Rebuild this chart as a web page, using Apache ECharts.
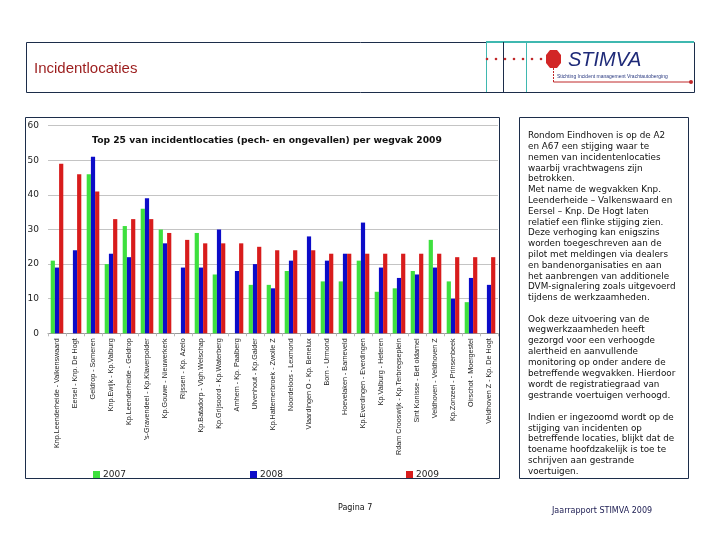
<!DOCTYPE html>
<html>
<head>
<meta charset="utf-8">
<script src="https://cdn.jsdelivr.net/npm/echarts@6/dist/echarts.min.js"></script>
<style>
html,body{margin:0;padding:0;background:#fff;}
#c{width:720px;height:540px;}
</style>
</head>
<body>
<div id="c"></div>
<script>
// ---- data ----
const categories = [
  "Knp.Leenderheide - Valkenswaard",
  "Eersel - Knp. De Hogt",
  "Geldrop - Someren",
  "Knp.Ewijk - Kp.Valburg",
  "Kp.Leenderheide - Geldrop",
  "'s-Gravendeel - Kp.Klaverpolder",
  "Kp.Gouwe - Nieuwerkerk",
  "Rijssen - Kp. Azelo",
  "Kp.Batadorp - Vlgh.Welschap",
  "Kp.Grijsoord - Kp.Waterberg",
  "Arnhem - Kp. Paalberg",
  "Ulvenhout - Kp.Galder",
  "Kp.Hattemerbroek - Zwolle Z",
  "Noordeloos - Lexmond",
  "Vlaardingen O - Kp. Benelux",
  "Born - Urmond",
  "Hoevelaken - Barneveld",
  "Kp.Everdingen - Everdingen",
  "Kp.Valburg - Heteren",
  "Rdam Crooswijk - Kp.Terbregseplein",
  "Sint Konisse - Bet oldamel",
  "Veldhoven - Veldhoven Z",
  "Kp.Zonzeel - Prinsenbeek",
  "Oirschot - Moergestel",
  "Veldhoven Z - Kp. De Hogt"
];
const seriesNames = ["2007", "2008", "2009"];
const values2007 = [21, 0, 46, 20, 31, 36, 30, 0, 29, 17, 0, 14, 14, 18, 0, 15, 15, 21, 12, 13, 18, 27, 15, 9, 0];
const values2008 = [19, 24, 51, 23, 22, 39, 26, 19, 19, 30, 18, 20, 13, 21, 28, 21, 23, 32, 19, 16, 17, 19, 10, 16, 14];
const values2009 = [49, 46, 41, 33, 33, 33, 29, 27, 26, 26, 26, 25, 24, 24, 24, 23, 23, 23, 23, 23, 23, 23, 22, 22, 22];
const yTicks = { min: 0, max: 60, interval: 10 };

const pageTitle = "Incidentlocaties";
const chartTitle = "Top 25 van incidentlocaties (pech- en ongevallen) per wegvak 2009";
const logoText = "STIMVA";
const logoSub = "Stichting Incident management Vrachtautoberging";
const footerLeft = "Pagina 7";
const footerRight = "Jaarrapport STIMVA 2009";
const para1 = [
  "Rondom Eindhoven is op de A2",
  "en A67 een stijging waar te",
  "nemen van incidentenlocaties",
  "waarbij vrachtwagens zijn",
  "betrokken.",
  "Met name de wegvakken Knp.",
  "Leenderheide \u2013 Valkenswaard en",
  "Eersel \u2013 Knp. De Hogt laten",
  "relatief een flinke stijging zien.",
  "Deze verhoging kan enigszins",
  "worden toegeschreven aan de",
  "pilot met meldingen via dealers",
  "en bandenorganisaties en aan",
  "het aanbrengen van additionele",
  "DVM-signalering zoals uitgevoerd",
  "tijdens de werkzaamheden."
];
const para2 = [
  "Ook deze uitvoering van de",
  "wegwerkzaamheden heeft",
  "gezorgd voor een verhoogde",
  "alertheid en aanvullende",
  "monitoring op onder andere de",
  "betreffende wegvakken. Hierdoor",
  "wordt de registratiegraad van",
  "gestrande voertuigen verhoogd.",
  "",
  "Indien er ingezoomd wordt op de",
  "stijging van incidenten op",
  "betreffende locaties, blijkt dat de",
  "toename hoofdzakelijk is toe te",
  "schrijven aan gestrande",
  "voertuigen."
];

const colors = ["#3ee03e", "#0c0cc8", "#d81c1c"];
const navy = "#1c2d4a";
const teal = "#3fb8b0";

const chart = echarts.init(document.getElementById('c'), null, {renderer: 'canvas'});

const dots = [];
for (let i = 0; i < 7; i++) {
  dots.push({type: 'circle', shape: {cx: 487 + i * 9, cy: 59, r: 1.3}, style: {fill: '#c0282a'}, silent: true});
}

const graphic = [
  // header box
  {type: 'rect', shape: {x: 26.5, y: 42.5, width: 668, height: 50}, style: {fill: 'none', stroke: navy, lineWidth: 1}},
  {type: 'line', shape: {x1: 486, y1: 42, x2: 694, y2: 42}, style: {stroke: teal, lineWidth: 2}},
  {type: 'line', shape: {x1: 486.5, y1: 42, x2: 486.5, y2: 92}, style: {stroke: teal, lineWidth: 1}},
  {type: 'line', shape: {x1: 503.5, y1: 42, x2: 503.5, y2: 92}, style: {stroke: navy, lineWidth: 1}},
  {type: 'line', shape: {x1: 526.5, y1: 42, x2: 526.5, y2: 92}, style: {stroke: teal, lineWidth: 1}},
  {type: 'text', style: {text: pageTitle, x: 34, y: 69, fill: '#9b1c1c', font: '15px "Liberation Sans", Arial, sans-serif', verticalAlign: 'middle'}},
  ...dots,
  {type: 'polygon', shape: {points: [[550, 50], [557, 50], [561, 55], [561, 63], [557, 68], [550, 68], [546, 63], [546, 55]]}, style: {fill: '#d22626'}},
  {type: 'line', shape: {x1: 553.5, y1: 68, x2: 553.5, y2: 82}, style: {stroke: '#c0282a', lineWidth: 1, lineDash: [2, 1]}},
  {type: 'line', shape: {x1: 553.5, y1: 82, x2: 690, y2: 82}, style: {stroke: '#c0282a', lineWidth: 1}},
  {type: 'circle', shape: {cx: 691, cy: 82, r: 2}, style: {fill: '#c0282a'}},
  {type: 'text', style: {text: logoText, x: 568, y: 60, fill: '#1e2a78', font: 'italic 20px "Liberation Sans", Arial, sans-serif', verticalAlign: 'middle'}},
  {type: 'text', style: {text: logoSub, x: 557, y: 77, fill: '#2a3a80', font: '5px "Liberation Sans", Arial, sans-serif', verticalAlign: 'middle'}},
  // chart box
  {type: 'rect', shape: {x: 25.5, y: 117.5, width: 474, height: 361}, style: {fill: 'none', stroke: navy, lineWidth: 1}},
  // text box
  {type: 'rect', shape: {x: 519.5, y: 117.5, width: 169, height: 361}, style: {fill: 'none', stroke: navy, lineWidth: 1}},
  {type: 'text', style: {text: para1.join('\n'), x: 528, y: 130.6, fill: '#111', font: '8.8px "DejaVu Sans", Verdana, sans-serif', lineHeight: 10.8, verticalAlign: 'top'}},
  {type: 'text', style: {text: para2.join('\n'), x: 528, y: 313.8, fill: '#111', font: '8.8px "DejaVu Sans", Verdana, sans-serif', lineHeight: 10.9, verticalAlign: 'top'}},
  // footer
  {type: 'text', style: {text: footerLeft, x: 338, y: 508, fill: '#111', font: '8px "DejaVu Sans", Verdana, sans-serif', verticalAlign: 'middle'}},
  {type: 'text', style: {text: footerRight, x: 552, y: 511, fill: '#1a1a50', font: '8px "DejaVu Sans", Verdana, sans-serif', verticalAlign: 'middle'}}
];

const mkLegend = (name, left) => ({
  data: [name], left: left, top: 470, icon: 'rect', itemWidth: 7, itemHeight: 7, itemGap: 3,
  textStyle: {fontSize: 9, color: '#222', fontFamily: '"DejaVu Sans", Verdana, sans-serif', padding: [0, 0, 0, -2]},
  padding: 0, selectedMode: false
});

const option = {
  animation: false,
  backgroundColor: '#fff',
  color: colors,
  title: {
    text: chartTitle, left: 262, top: 131, textAlign: 'center',
    textStyle: {fontSize: 9.2, fontWeight: 'bold', color: '#111', fontFamily: '"DejaVu Sans", Verdana, sans-serif'}
  },
  legend: [mkLegend(seriesNames[0], 93), mkLegend(seriesNames[1], 250), mkLegend(seriesNames[2], 406)],
  grid: {left: 48, right: 222, top: 125.7, bottom: 206.7, containLabel: false},
  xAxis: {
    type: 'category', data: categories,
    axisLine: {show: true, lineStyle: {color: '#9a9a9a'}},
    axisTick: {show: true, interval: 0, length: 3, lineStyle: {color: '#bbb'}},
    axisLabel: {interval: 0, rotate: 90, fontSize: 7.2, color: '#222', margin: 5, fontFamily: '"Liberation Sans", Arial, sans-serif'}
  },
  yAxis: {
    type: 'value', min: yTicks.min, max: yTicks.max, interval: yTicks.interval,
    axisLine: {show: false}, axisTick: {show: false},
    axisLabel: {fontSize: 9, color: '#222', margin: 9, fontFamily: '"DejaVu Sans", Verdana, sans-serif'},
    splitLine: {lineStyle: {color: '#c4c4c4'}}
  },
  series: [
    {name: seriesNames[0], type: 'bar', data: values2007, barGap: '0%', barCategoryGap: '30%'},
    {name: seriesNames[1], type: 'bar', data: values2008, barGap: '0%', barCategoryGap: '30%'},
    {name: seriesNames[2], type: 'bar', data: values2009, barGap: '0%', barCategoryGap: '30%'}
  ],
  graphic: graphic
};
chart.setOption(option);
</script>
</body>
</html>
